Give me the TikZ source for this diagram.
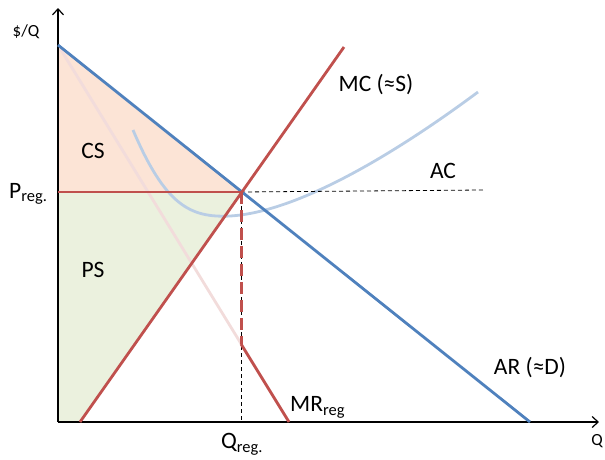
\documentclass[tikz,border=0pt]{standalone}
\usepackage{fontspec}
\setmainfont{Carlito}
\usetikzlibrary{arrows.meta}
\definecolor{arblue}{HTML}{4F81BD}
\definecolor{mcred}{HTML}{C0504D}
\definecolor{csfill}{HTML}{FCE4D6}
\definecolor{psfill}{HTML}{EBF1DE}
\definecolor{acblue}{HTML}{B9CDE5}
\definecolor{mrpale}{HTML}{F2DCDB}
\tikzset{
  axis/.style={line width=1.2pt,-{Straight Barb[length=6pt,width=11pt]}},
  curveline/.style={line width=2.8pt},
  guide/.style={line width=0.8pt,dash pattern=on 4pt off 3pt},
  lbl/.style={inner sep=0pt,font=\fontsize{23.5}{25}\selectfont},
  small/.style={inner sep=0pt,font=\fontsize{17}{19}\selectfont}
}
\begin{document}
\begin{tikzpicture}[x=1pt,y=-1pt]
\useasboundingbox (0,0) rectangle (605,459);
% key points
\coordinate (O) at (58,422);
\coordinate (Ytop) at (58,8);
\coordinate (Xend) at (599,422);
\coordinate (Dtop) at (58,45);
\coordinate (Dend) at (530,422);
\coordinate (E) at (241,192);
\coordinate (Pax) at (58,192);
\coordinate (Qax) at (241,422);
\coordinate (MCbot) at (80,422);
\coordinate (MCtop) at (344,47);
\coordinate (MRk) at (241,344);
\coordinate (MRend) at (289,422);
\coordinate (ACend) at (483,190);
% fills
\fill[csfill] (Dtop) -- (E) -- (Pax) -- cycle;
\fill[psfill] (Pax) -- (E) -- (MCbot) -- (O) -- cycle;
% pale MR and AC
\draw[mrpale,curveline] (Dtop) -- (MRend);
\draw[acblue,curveline] (133,130) .. controls (165,205) and (190,218) .. (230,216)
  .. controls (300,212) and (400,150) .. (478,92);
% guides
\draw[guide] (E) -- (ACend);
\draw[guide] (E) -- (Qax);
% axes
\draw[axis] (O) -- (Ytop);
\draw[axis] (O) -- (Xend);
% main lines
\draw[arblue,curveline] (Dtop) -- (Dend);
\draw[mcred,curveline] (MCbot) -- (MCtop);
\draw[mcred,curveline] (Pax) -- (E);
\draw[mcred,line width=3pt,dash pattern=on 12pt off 6pt] (E) -- (MRk);
\draw[mcred,curveline] (MRk) -- (MRend);
% labels
\node[small] (ylab) at (26,32) {\$/Q};
\node[small] (xlab) at (597,441) {Q};
\node[lbl] (cs) at (93,151) {CS};
\node[lbl] (ps) at (93,270) {PS};
\node[lbl,anchor=west] (preg) at (9,194) {P\textsubscript{reg.}};
\node[lbl] (qreg) at (242,444) {Q\textsubscript{reg.}};
\node[lbl,anchor=west] (mr) at (290,407) {MR\textsubscript{reg}};
\node[lbl] (ar) at (530,368) {AR (≈D)};
\node[lbl] (mc) at (376,85) {MC (≈S)};
\node[lbl] (ac) at (443,171) {AC};
\end{tikzpicture}
\end{document}
